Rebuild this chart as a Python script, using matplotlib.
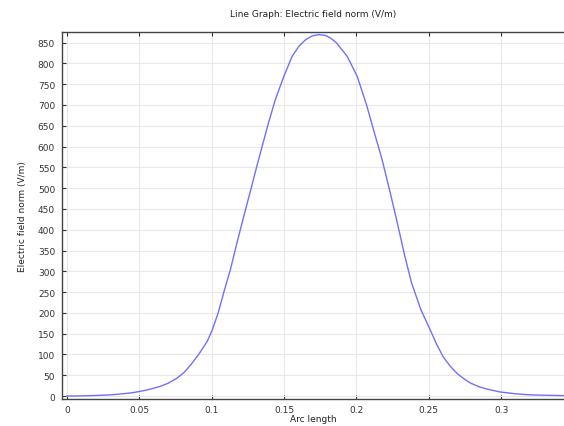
import numpy as np
import matplotlib
matplotlib.use('Agg')
import matplotlib.pyplot as plt

# arc length and field norm
arc = [0, 0.01, 0.02, 0.03, 0.04, 0.045, 0.05, 0.055, 0.06, 0.065, 0.07,
       0.076, 0.081, 0.0855, 0.091, 0.097, 0.1005, 0.1045, 0.1085, 0.113,
       0.117, 0.122, 0.127, 0.131, 0.135, 0.1395, 0.144, 0.15, 0.1556,
       0.1605, 0.165, 0.1694, 0.174, 0.1786, 0.182, 0.186, 0.1936, 0.2005,
       0.207, 0.212, 0.2177, 0.223, 0.228, 0.233, 0.238, 0.2445, 0.251,
       0.2555, 0.26, 0.265, 0.27, 0.2745, 0.279, 0.285, 0.29, 0.299, 0.305,
       0.31, 0.32, 0.33, 0.345]
enorm = [0, 0.5, 1.5, 3, 6, 8, 11, 14.5, 19, 24, 31,
         43, 57, 75, 100, 132, 160, 200, 251, 305,
         362, 430, 496, 550, 602, 660, 713, 770, 817,
         842, 857, 866, 869, 867, 861, 850, 817, 769,
         700, 638, 569, 494, 420, 343, 273, 208, 159,
         124, 94, 71, 53, 41, 31, 22, 17, 10, 7.5,
         5.5, 3, 2, 1]

xticks = [0, 0.05, 0.1, 0.15, 0.2, 0.25, 0.3]
yticks = list(range(0, 851, 50))

fig = plt.figure(figsize=(5.64, 4.27), dpi=100)
ax = fig.add_axes([62/564, 27/427, 502/564, 367.5/427])

ax.plot(arc, enorm, color='#7070ff', lw=1.0)

ax.set_xlim(-0.0034, 0.3434)
ax.set_ylim(-7, 876.5)
ax.set_xticks(xticks)
ax.set_xticklabels(['0', '0.05', '0.1', '0.15', '0.2', '0.25', '0.3'])
ax.set_yticks(yticks)
ax.grid(True, color='#e8e8e8', lw=0.8)
ax.set_axisbelow(True)

ax.tick_params(axis='both', labelsize=6.5, colors='#333333', length=3, width=0.8,
               direction='in')
ax.tick_params(axis='x', top=True, pad=4)
ax.tick_params(axis='y', pad=5)
ax.spines['right'].set_visible(False)
for s in ['left', 'bottom', 'top']:
    ax.spines[s].set_color('#444444')
    ax.spines[s].set_linewidth(1.0)

ax.set_xlabel('Arc length', fontsize=6.5, color='#222222', labelpad=0)
ax.set_ylabel('Electric field norm (V/m)', fontsize=6.5, color='#222222', labelpad=8)
ax.set_title('Line Graph: Electric field norm (V/m)', fontsize=6.5, color='#222222', pad=11)

fig.savefig('out.png', dpi=100)
